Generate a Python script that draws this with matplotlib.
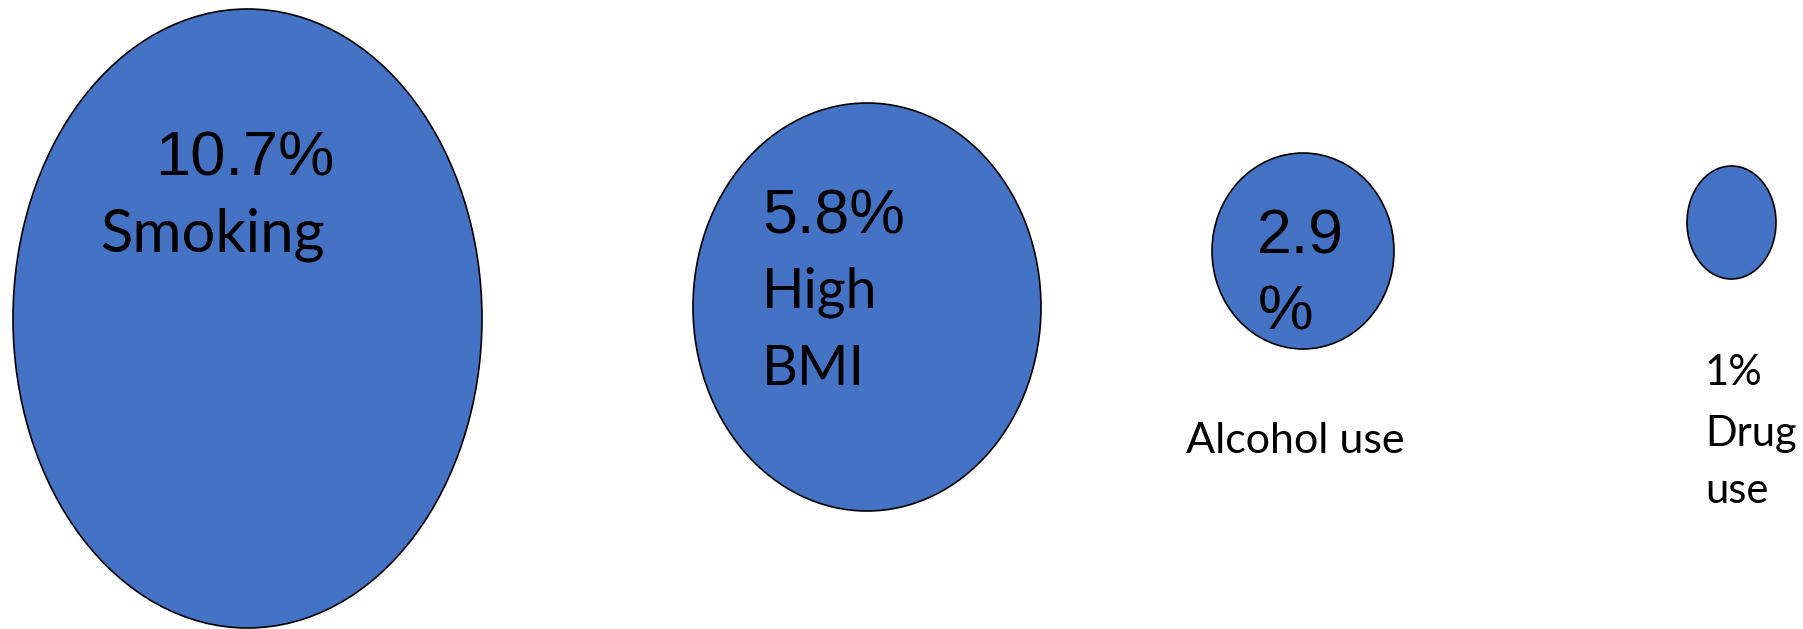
import matplotlib.pyplot as plt
from matplotlib.patches import Ellipse

# Share of burden attributed to each risk factor (%)
risk_factors = ["Smoking", "High BMI", "Alcohol use", "Drug use"]
shares = [10.7, 5.8, 2.9, 1.0]

# Bubble layout in pixel units (centre x, centre y, width, height)
centres = [(247.5, 318.5), (867, 307), (1303, 251), (1731.5, 222.5)]
sizes = [(469, 619), (348, 408), (182, 196), (89, 113)]

W, H = 1803, 629
fig = plt.figure(figsize=(W / 100, H / 100), dpi=100)
ax = fig.add_axes([0, 0, 1, 1])
ax.set_xlim(0, W)
ax.set_ylim(H, 0)
ax.axis("off")

for (cx, cy), (w, h) in zip(centres, sizes):
    ax.add_patch(Ellipse((cx, cy), w, h, facecolor="#4472C4",
                         edgecolor="black", linewidth=1.2))


def pct(v):
    return f"{v:g}%"


num_font = "Liberation Sans"
lab_font = "Lato"

# Smoking
ax.text(155, 176, pct(shares[0]), family=num_font, fontsize=45.5, va="baseline")
ax.text(100, 251, risk_factors[0], family=lab_font, fontsize=43, va="baseline")

# High BMI
ax.text(762, 233, pct(shares[1]), family=num_font, fontsize=45, va="baseline")
for i, word in enumerate(risk_factors[1].split()):
    ax.text(762, 308 + 77 * i, word, family=lab_font, fontsize=40, va="baseline")

# Alcohol use: the number wraps inside the small bubble
ax.text(1257, 253, f"{shares[2]:g}", family=num_font, fontsize=45, va="baseline")
ax.text(1258, 330, "%", family=num_font, fontsize=45, va="baseline")
ax.text(1186, 453, risk_factors[2], family=lab_font, fontsize=31, va="baseline")

# Drug use, label below the bubble
drug_lines = [pct(shares[3])] + risk_factors[3].split()
for txt, y in zip(drug_lines, [385, 446, 503]):
    ax.text(1705, y, txt, family=lab_font, fontsize=30, va="baseline")

fig.savefig("out.png", dpi=100)
